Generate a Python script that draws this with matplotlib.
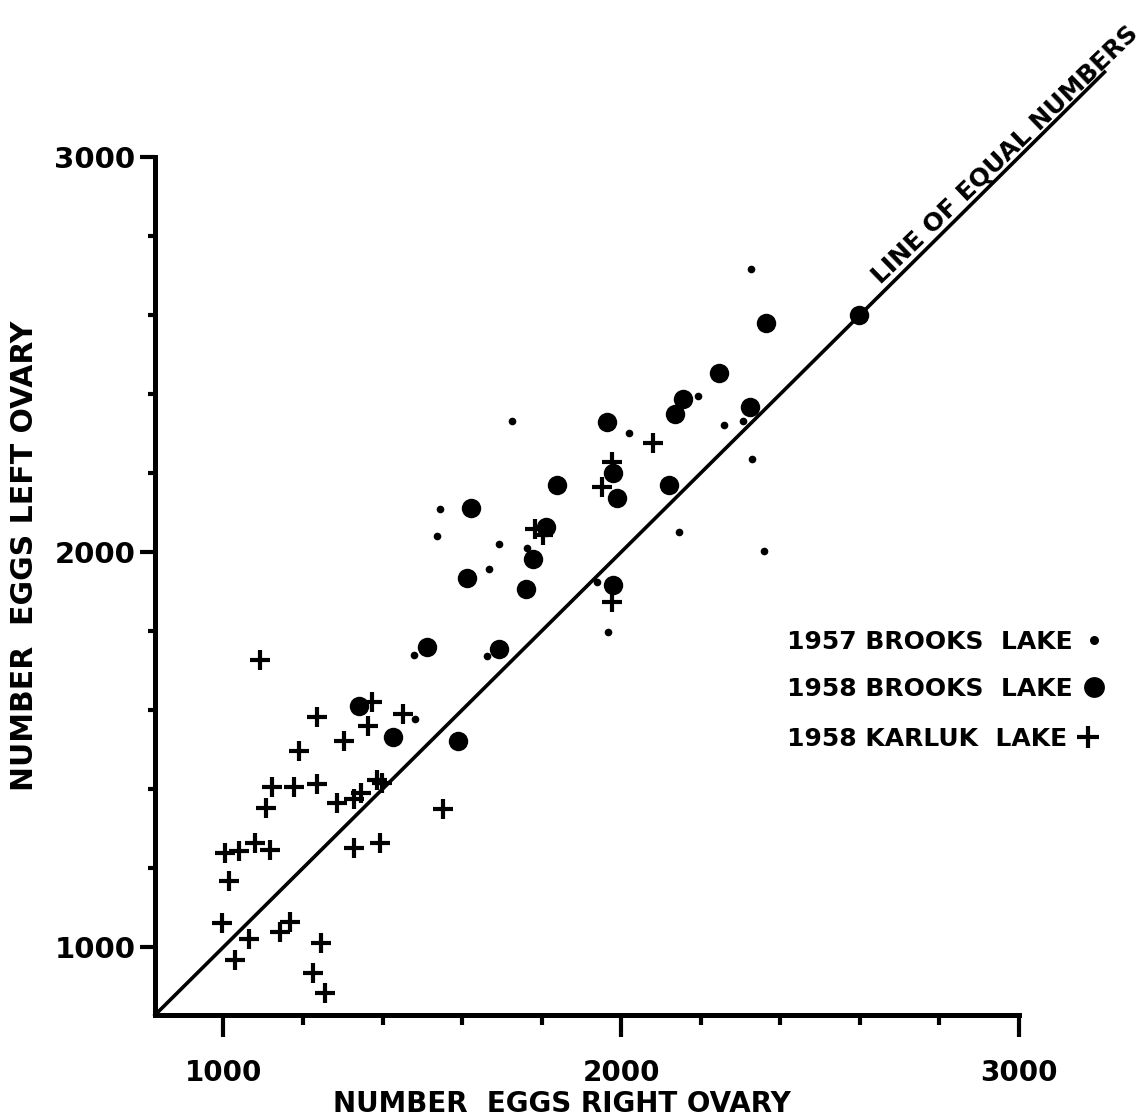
import matplotlib
matplotlib.use("Agg")
import matplotlib.pyplot as plt
from matplotlib.ticker import MultipleLocator
from matplotlib.lines import Line2D

# ---- data ----
brooks57_right = [1726, 2020, 2193, 2259, 2307, 2327, 2329, 2146, 2359, 1545, 1538,
                  1693, 1764, 1668, 1940, 1967, 1480, 1663, 1482]
brooks57_left = [2332, 2301, 2395, 2322, 2332, 2716, 2235, 2051, 2003, 2109, 2041,
                 2020, 2010, 1957, 1924, 1797, 1739, 1737, 1577]

brooks58_right = [1965, 2156, 2136, 2246, 2324, 2364, 2598, 1980, 1990, 2121, 1839,
                  1623, 1812, 1779, 1613, 1761, 1980, 1693, 1513, 1342, 1427, 1590]
brooks58_left = [2329, 2387, 2349, 2453, 2367, 2580, 2600, 2200, 2137, 2170, 2170,
                 2111, 2063, 1982, 1934, 1906, 1916, 1754, 1759, 1610, 1532, 1522]

karluk58_right = [2080, 1977, 1952, 1784, 1804, 1977, 1093, 1374, 1236, 1364, 1452,
                  1191, 1302, 1123, 1178, 1236, 1106, 1286, 1329, 1347, 1387, 1399,
                  1553, 1003, 1040, 1080, 1118, 1329, 1394, 1013, 997, 1065, 1030,
                  1143, 1168, 1246, 1226, 1256]
karluk58_left = [2276, 2228, 2165, 2058, 2043, 1873, 1727, 1620, 1582, 1559, 1590,
                 1496, 1522, 1405, 1405, 1413, 1352, 1365, 1375, 1390, 1423, 1415,
                 1349, 1238, 1243, 1263, 1246, 1251, 1263, 1167, 1061, 1020, 967,
                 1038, 1063, 1010, 934, 884]

equal_line = [828, 3215]
axis_min, axis_max = 828, 3000
major_ticks = [1000, 2000, 3000]
tick_labels = ["1000", "2000", "3000"]

legend_labels = ["1957 BROOKS  LAKE", "1958 BROOKS  LAKE", "1958 KARLUK  LAKE"]
x_title = "NUMBER  EGGS RIGHT OVARY"
y_title = "NUMBER  EGGS LEFT OVARY"
line_title = "LINE OF EQUAL NUMBERS"

plt.rcParams['font.family'] = ['DejaVu Sans']
plt.rcParams['font.weight'] = 'bold'

fig = plt.figure(figsize=(11.46, 11.18), dpi=100)
ax = fig.add_axes([155/1146, 1-1015/1118, (1019-155)/1146, (1015-157)/1118])
ax.set_xlim(axis_min, axis_max)
ax.set_ylim(axis_min, axis_max)

# line of equal numbers
ax.plot(equal_line, equal_line, color='black', lw=2.6, clip_on=False, zorder=2)

ax.plot(brooks57_right, brooks57_left, 'o', color='black', ms=5.5, mew=0,
        clip_on=False, zorder=3)
ax.plot(brooks58_right, brooks58_left, 'o', color='black', ms=14, mew=0,
        clip_on=False, zorder=3)
ax.plot(karluk58_right, karluk58_left, '+', color='black', ms=15, mew=3,
        clip_on=False, zorder=3)

ax.text(2985, 2985, line_title, rotation=44, rotation_mode='anchor',
        ha='center', va='bottom', fontsize=18, fontweight='bold')

# spines
for s in ['top', 'right']:
    ax.spines[s].set_visible(False)
for s in ['left', 'bottom']:
    ax.spines[s].set_linewidth(3.6)
ax.spines['bottom'].set_bounds(axis_min, axis_max)
ax.spines['left'].set_bounds(axis_min, axis_max)

ax.set_xticks(major_ticks)
ax.set_xticklabels(tick_labels, fontsize=20, fontweight='bold')
ax.set_yticks(major_ticks)
ax.set_yticklabels(tick_labels, fontsize=21, fontweight='bold')
ax.xaxis.set_minor_locator(MultipleLocator(200))
ax.yaxis.set_minor_locator(MultipleLocator(200))
ax.tick_params(axis='x', which='major', length=16, width=3, pad=16, direction='out')
ax.tick_params(axis='x', which='minor', length=7, width=3, direction='out')
ax.tick_params(axis='y', which='major', length=11, width=3, pad=3, direction='out')
ax.tick_params(axis='y', which='minor', length=5, width=3, direction='out')

fig.text(562/1146, 1-1104/1118, x_title, ha='center', va='center',
         fontsize=20, fontweight='bold')
fig.text(25/1146, 1-556/1118, y_title, ha='center', va='center', rotation=90,
         fontsize=21.5, fontweight='bold')

handles = [
    Line2D([], [], ls='none', marker='o', color='black', ms=6.5, mew=0),
    Line2D([], [], ls='none', marker='o', color='black', ms=15, mew=0),
    Line2D([], [], ls='none', marker='+', color='black', ms=16, mew=3),
]
row_y = [642, 689, 739]
for i, (h, lab, ry) in enumerate(zip(handles, legend_labels, row_y)):
    leg = ax.legend([h], [lab], loc='center left',
                    bbox_to_anchor=(787/1146, 1-ry/1118), bbox_transform=fig.transFigure,
                    frameon=False, markerfirst=False, handlelength=1.0, handletextpad=0.35,
                    borderpad=0, borderaxespad=0,
                    prop={'size': 18, 'weight': 'bold'})
    if i < len(handles) - 1:
        ax.add_artist(leg)

fig.savefig('out.png', dpi=100, facecolor='white')
